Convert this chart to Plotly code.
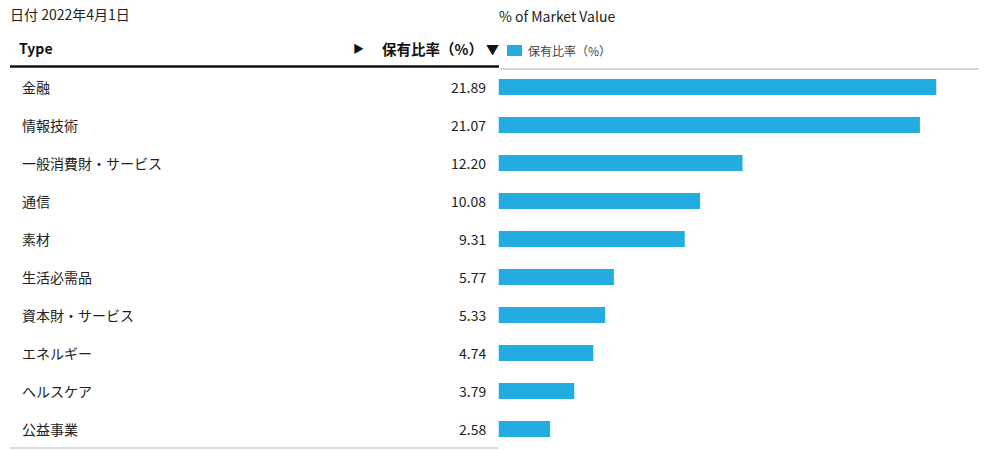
import plotly.graph_objects as go

date_label = "日付 2022年4月1日"
chart_title = "% of Market Value"
series_name = "保有比率（%）"
categories = ["金融", "情報技術", "一般消費財・サービス", "通信", "素材",
              "生活必需品", "資本財・サービス", "エネルギー", "ヘルスケア", "公益事業"]
values = [21.89, 21.07, 12.20, 10.08, 9.31, 5.77, 5.33, 4.74, 3.79, 2.58]
value_labels = ["21.89", "21.07", "12.20", "10.08", "9.31", "5.77", "5.33", "4.74", "3.79", "2.58"]

W, H = 996, 450
BAR_COLOR = "#22ACE0"
FONT = "Noto Sans CJK JP, Noto Sans, sans-serif"

def px(x):
    return x / W

def py(y):
    return 1 - y / H

fig = go.Figure()
fig.add_trace(go.Bar(
    x=values, y=categories, orientation="h",
    marker=dict(color=BAR_COLOR, line=dict(width=0)),
    width=0.42, showlegend=False, hoverinfo="x+y",
))

annotations = []
annotations.append(dict(text=date_label, x=px(8), y=py(14), xref="paper", yref="paper",
                        xanchor="left", yanchor="middle", showarrow=False,
                        font=dict(size=14, color="#222")))
annotations.append(dict(text=chart_title, x=px(497), y=py(16), xref="paper", yref="paper",
                        xanchor="left", yanchor="middle", showarrow=False,
                        font=dict(size=14, color="#222")))
annotations.append(dict(text="<b>Type</b>", x=px(17), y=py(48), xref="paper", yref="paper",
                        xanchor="left", yanchor="middle", showarrow=False,
                        font=dict(size=14, color="#111")))
annotations.append(dict(text="▶", x=px(358), y=py(48), xref="paper", yref="paper",
                        xanchor="center", yanchor="middle", showarrow=False,
                        font=dict(size=11, color="#111")))
annotations.append(dict(text="<b>" + series_name + "</b>", x=px(485), y=py(48), xref="paper", yref="paper",
                        xanchor="right", yanchor="middle", showarrow=False,
                        font=dict(size=14.5, color="#111")))
annotations.append(dict(text="▼", x=px(492), y=py(48), xref="paper", yref="paper",
                        xanchor="center", yanchor="middle", showarrow=False,
                        font=dict(size=13, color="#111")))
annotations.append(dict(text=series_name, x=px(526), y=py(51), xref="paper", yref="paper",
                        xanchor="left", yanchor="middle", showarrow=False,
                        font=dict(size=12, color="#444")))
for c, v in zip(categories, value_labels):
    annotations.append(dict(text=c, x=px(20), y=c, xref="paper", yref="y",
                            xanchor="left", yanchor="middle", showarrow=False,
                            font=dict(size=14, color="#222")))
    annotations.append(dict(text=v, x=px(488), y=c, xref="paper", yref="y",
                            xanchor="right", yanchor="middle", showarrow=False,
                            font=dict(size=14, color="#222")))

shapes = [
    dict(type="rect", xref="paper", yref="paper", x0=px(507), x1=px(522), y0=py(45), y1=py(56),
         fillcolor=BAR_COLOR, line=dict(width=0)),
    dict(type="line", xref="paper", yref="paper", x0=px(10), x1=px(499), y0=py(66.5), y1=py(66.5),
         line=dict(color="#111", width=2.5)),
    dict(type="line", xref="paper", yref="paper", x0=px(500), x1=px(979), y0=py(69), y1=py(69),
         line=dict(color="#ccc", width=1.5)),
    dict(type="line", xref="paper", yref="paper", x0=px(10), x1=px(498), y0=py(448), y1=py(448),
         line=dict(color="#ccc", width=1.5)),
]

fig.update_layout(
    width=W, height=H,
    margin=dict(l=0, r=0, t=0, b=0),
    paper_bgcolor="white", plot_bgcolor="white",
    font=dict(family=FONT, size=14, color="#222"),
    xaxis=dict(domain=[px(498.5), px(978.5)], range=[0, 24], visible=False, fixedrange=True),
    yaxis=dict(domain=[py(448), py(68)], autorange=False, range=[9.5, -0.5],
               categoryorder="array", categoryarray=categories,
               visible=False, fixedrange=True),
    annotations=annotations,
    shapes=shapes,
    showlegend=False,
)

fig.write_html("out.html")
